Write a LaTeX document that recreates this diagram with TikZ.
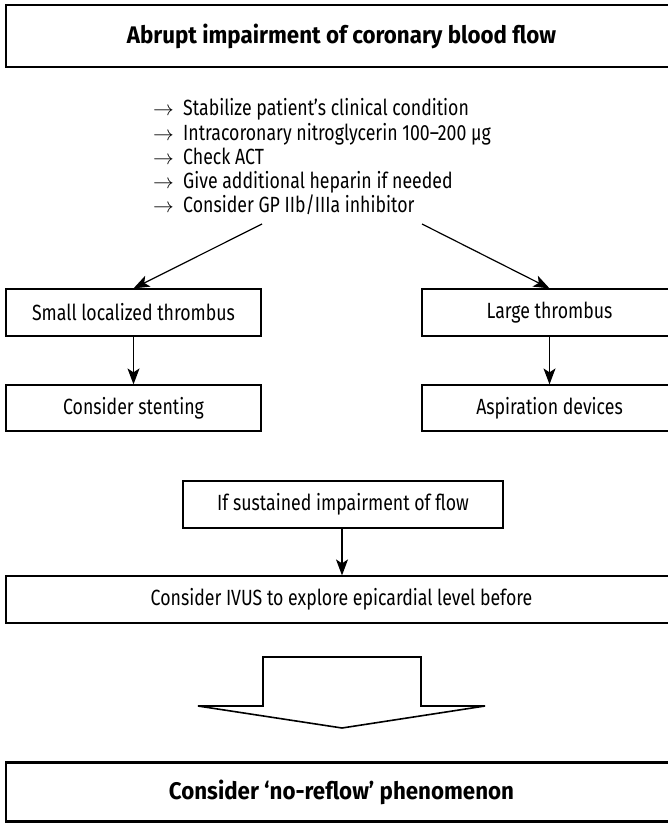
\documentclass[tikz,border=0pt]{standalone}
\usepackage{fontspec}
\setmainfont{Fira Sans}[FakeStretch=0.805, BoldFeatures={FakeStretch=0.93}]
\usetikzlibrary{arrows.meta}
\tikzset{
  thinbox/.style={draw=black, line width=1.2pt, inner sep=0pt, font=\fontsize{22}{24}\selectfont},
  thickbox/.style={draw=black, line width=2.8pt, inner sep=0pt, font=\fontsize{24}{26}\selectfont\bfseries},
  listline/.style={inner sep=0pt, anchor=base west, font=\fontsize{22}{24}\selectfont},
  conn/.style={line width=1.2pt, -{Stealth[length=16pt, width=12pt, inset=4pt]}},
  hollow/.style={draw=black, line width=1.6pt, fill=white, line join=miter}
}
\newcommand{\listarrow}{\makebox[30pt][l]{\fontsize{20}{24}\selectfont$\rightarrow$}}
\begin{document}
\begin{tikzpicture}[x=1pt, y=-1pt]
\useasboundingbox (0,0) rectangle (668,824);
\clip (0,0) rectangle (668,824);

\node[thickbox, minimum width=671pt, minimum height=62pt] (top) at (341.5,36) {Abrupt impairment of coronary blood flow};

\node[listline] (l1) at (153,116) {\listarrow Stabilize patient’s clinical condition};
\node[listline] (l2) at (153,140) {\listarrow Intracoronary nitroglycerin 100–200 µg};
\node[listline] (l3) at (153,164) {\listarrow Check ACT};
\node[listline] (l4) at (153,188) {\listarrow Give additional heparin if needed};
\node[listline] (l5) at (153,212) {\listarrow Consider GP IIb/IIIa inhibitor};

\coordinate (a1) at (262,224);
\coordinate (a2) at (422,224);

\node[thinbox, minimum width=255pt, minimum height=47pt] (small) at (133.5,312.5) {Small localized thrombus};
\node[thinbox, minimum width=255pt, minimum height=47pt] (large) at (549.5,312.5) {Large thrombus};
\node[thinbox, minimum width=255pt, minimum height=46pt] (stent) at (133.5,408) {Consider stenting};
\node[thinbox, minimum width=255pt, minimum height=46pt] (aspir) at (549.5,408) {Aspiration devices};

\node[thinbox, minimum width=320pt, minimum height=47pt] (sust) at (343,504.5) {If sustained impairment of flow};
\node[thinbox, minimum width=671pt, minimum height=47pt] (ivus) at (341.5,599.5) {Consider IVUS to explore epicardial level before};

\node[thickbox, minimum width=671pt, minimum height=59pt] (bottom) at (341.5,792) {Consider ‘no-reflow’ phenomenon};

\draw[conn] (a1) -- (small.north);
\draw[conn] (a2) -- (large.north);
\draw[conn] (small.south) -- (stent.north);
\draw[conn] (large.south) -- (aspir.north);
\draw[conn] ([xshift=-1pt]sust.south) -- ([xshift=-1pt]sust.south |- ivus.north);

\draw[hollow] (263,657) -- (421,657) -- (421,706) -- (485,706) -- (342,728) -- (198,706) -- (263,706) -- cycle;
\end{tikzpicture}
\end{document}
